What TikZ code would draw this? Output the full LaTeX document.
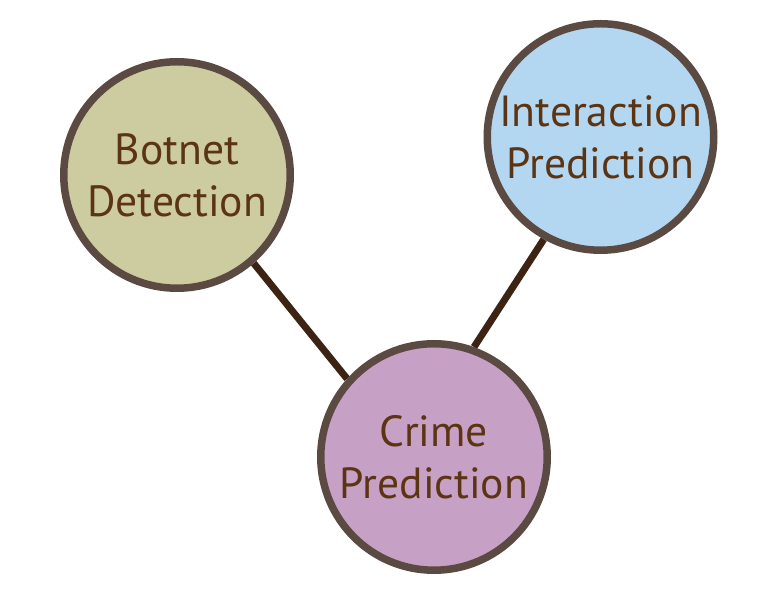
\documentclass[tikz,border=0pt]{standalone}
\usepackage{fontspec}
\setmainfont{PT Sans}
\usepackage{xcolor}
\usepackage{tikz}
\usetikzlibrary{calc, backgrounds}

\definecolor{ringbrown}{HTML}{5A4A42}
\definecolor{linkbrown}{HTML}{3D2314}
\definecolor{textbrown}{HTML}{5B3413}
\definecolor{botfill}{HTML}{CDCBA0}
\definecolor{interfill}{HTML}{B3D7F1}
\definecolor{crimefill}{HTML}{C7A0C6}

\begin{document}
\begin{tikzpicture}[
    topic/.style={circle, draw=ringbrown, line width=0.075cm, minimum size=2.265cm,
        inner sep=0pt, align=center, text=textbrown,
        font=\fontsize{12.4}{14.8}\selectfont},
    link/.style={draw=linkbrown, line width=0.07cm}
]

    % =================================================================
    % 1. KHUNG HINH
    % =================================================================
    \useasboundingbox (0,0) rectangle (7.73,5.92);

    % =================================================================
    % 2. CAC VONG TRON CHU DE
    % =================================================================
    \node[topic, fill=botfill] (bot) at (1.77,4.17) {Botnet\\Detection};
    \node[topic, fill=interfill] (inter) at (6.005,4.55) {Interaction\\Prediction};
    \node[topic, fill=crimefill] (crime) at (4.34,1.35) {Crime\\Prediction};

    % =================================================================
    % 3. CAC DOAN NOI (NAM DUOI CAC VONG TRON)
    % =================================================================
    \begin{scope}[on background layer]
        \draw[link] (bot.311) -- (crime.138);
        \draw[link] (inter.241) -- (crime.70);
    \end{scope}

\end{tikzpicture}
\end{document}
